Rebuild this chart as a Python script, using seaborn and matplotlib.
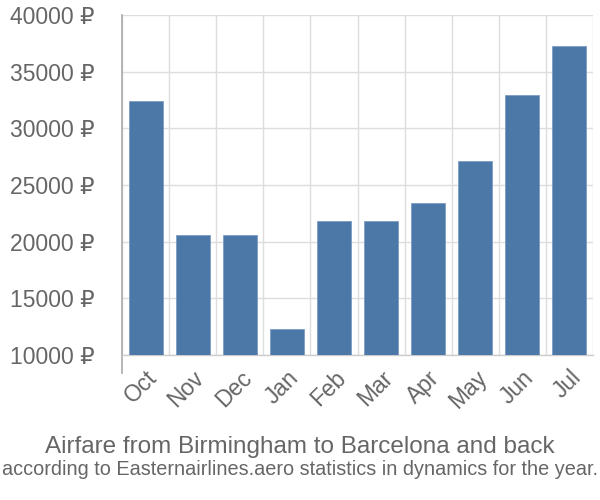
import matplotlib
matplotlib.use("Agg")
import matplotlib.pyplot as plt
import seaborn as sns
import numpy as np
import pandas as pd
from matplotlib import font_manager

months = ["Oct", "Nov", "Dec", "Jan", "Feb", "Mar", "Apr", "May", "Jun", "Jul"]
prices = [32400, 20600, 20600, 12300, 21800, 21800, 23400, 27100, 32900, 37300]
yticks = [10000, 15000, 20000, 25000, 30000, 35000, 40000]
title1 = "Airfare from Birmingham to Barcelona and back"
title2 = "according to Easternairlines.aero statistics in dynamics for the year."

sns.set_style("white")
plt.rcParams['font.family'] = ['Liberation Sans', 'DejaVu Sans']

names = {f.name for f in font_manager.fontManager.ttflist}
narrow = "Liberation Sans Narrow" in names

df = pd.DataFrame({"month": months, "price": prices})

fig = plt.figure(figsize=(6, 5), dpi=100)
ax = fig.add_axes([122/600, 1-355/500, (593-122)/600, (355-15)/500])

sns.barplot(data=df, x="month", y="price", color="#4c78a8", saturation=1,
            width=0.72, edgecolor="#7d9cc4", linewidth=0.6, ax=ax, zorder=3)

ax.set_xlim(-0.5, len(months) - 0.5)
ax.set_ylim(10000, 40000)
ax.set_yticks(yticks)
ax.set_yticklabels([f"{v} ₽" for v in yticks])
ax.set_xticks(np.arange(len(months)))
ax.set_xticklabels(months, rotation=45, ha="right", rotation_mode="anchor")
ax.set_xticks(np.arange(len(months) + 1) - 0.5, minor=True)

ax.set_xlabel("")
ax.set_ylabel("")

ax.grid(True, which="minor", axis="x", color="#dddddd", linewidth=1, zorder=0)
ax.grid(True, which="major", axis="y", color="#dddddd", linewidth=1, zorder=0)
ax.grid(False, which="major", axis="x")

ax.tick_params(axis="x", which="major", length=0, pad=8, labelsize=16.5, labelcolor="#666666")
ax.tick_params(axis="x", which="minor", length=20, color="#dddddd", width=1)
ax.tick_params(axis="y", which="major", length=20, color="#dddddd", width=1,
               pad=0, labelsize=16.5, labelcolor="#666666")

for s in ["top", "right"]:
    ax.spines[s].set_visible(False)
ax.spines["left"].set_color("#aaaaaa")
ax.spines["left"].set_linewidth(1.2)
ax.spines["left"].set_bounds(10000 - 1600, 40000)
ax.spines["bottom"].set_color("#cccccc")
ax.spines["bottom"].set_linewidth(1)

fig.text(0.5, 1-453/500, title1, ha="center", va="baseline", fontsize=17.5, color="#666666")
if narrow:
    fig.text(0.5, 1-475/500, title2, ha="center", va="baseline", fontsize=16.5,
             color="#666666", family=["Liberation Sans Narrow", "DejaVu Sans"])
else:
    fig.text(0.5, 1-475/500, title2, ha="center", va="baseline", fontsize=14.3,
             color="#666666")

fig.savefig("out.png", dpi=100)
